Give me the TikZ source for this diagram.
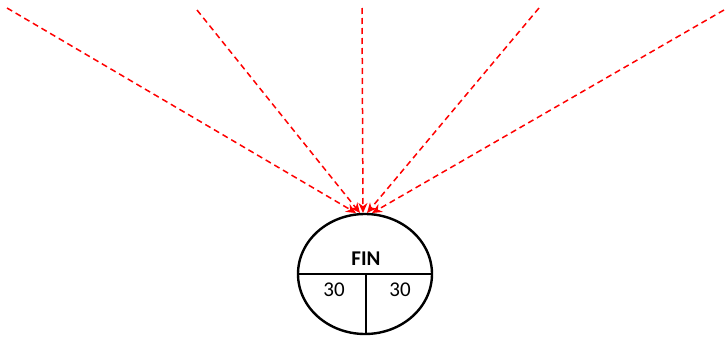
\documentclass[tikz,border=0pt]{standalone}
\usepackage{fontspec}
\setmainfont{Carlito}
\usetikzlibrary{arrows.meta,shapes.geometric}
\begin{document}
\begin{tikzpicture}[x=1pt,y=-1pt,
  ray/.style={draw=red, line width=1.5pt, dash pattern=on 6pt off 4pt, -{Stealth[length=10pt,width=9pt,fill=red]}},
  lbl/.style={font=\fontsize{21}{23}\selectfont, inner sep=0pt}]
\useasboundingbox (0,0) rectangle (726,340);
\node[draw, line width=2.4pt, ellipse, minimum width=134pt, minimum height=120pt, inner sep=0pt] (fin) at (365,274) {};
\coordinate (hl) at (298,274);
\coordinate (hr) at (433,274);
\coordinate (vt) at (366,274);
\coordinate (vb) at (366,333);
\draw[line width=1.6pt] (hl) -- (hr);
\draw[line width=1.6pt] (vt) -- (vb);
\node[lbl, font=\bfseries\fontsize{21}{23}\selectfont] (t) at (366,259) {FIN};
\node[lbl] (a) at (334,290) {30};
\node[lbl] (b) at (400,290) {30};
\coordinate (s1) at (7,8);
\coordinate (s2) at (197,10);
\coordinate (s3) at (362,8);
\coordinate (s4) at (539,8);
\coordinate (s5) at (724,10);
\coordinate (e1) at (356,213);
\coordinate (e2) at (360,213);
\coordinate (e3) at (363,213);
\coordinate (e4) at (367,213);
\coordinate (e5) at (372,213);
\draw[ray] (s1) -- (e1);
\draw[ray] (s2) -- (e2);
\draw[ray] (s3) -- (e3);
\draw[ray] (s4) -- (e4);
\draw[ray] (s5) -- (e5);
\end{tikzpicture}
\end{document}
